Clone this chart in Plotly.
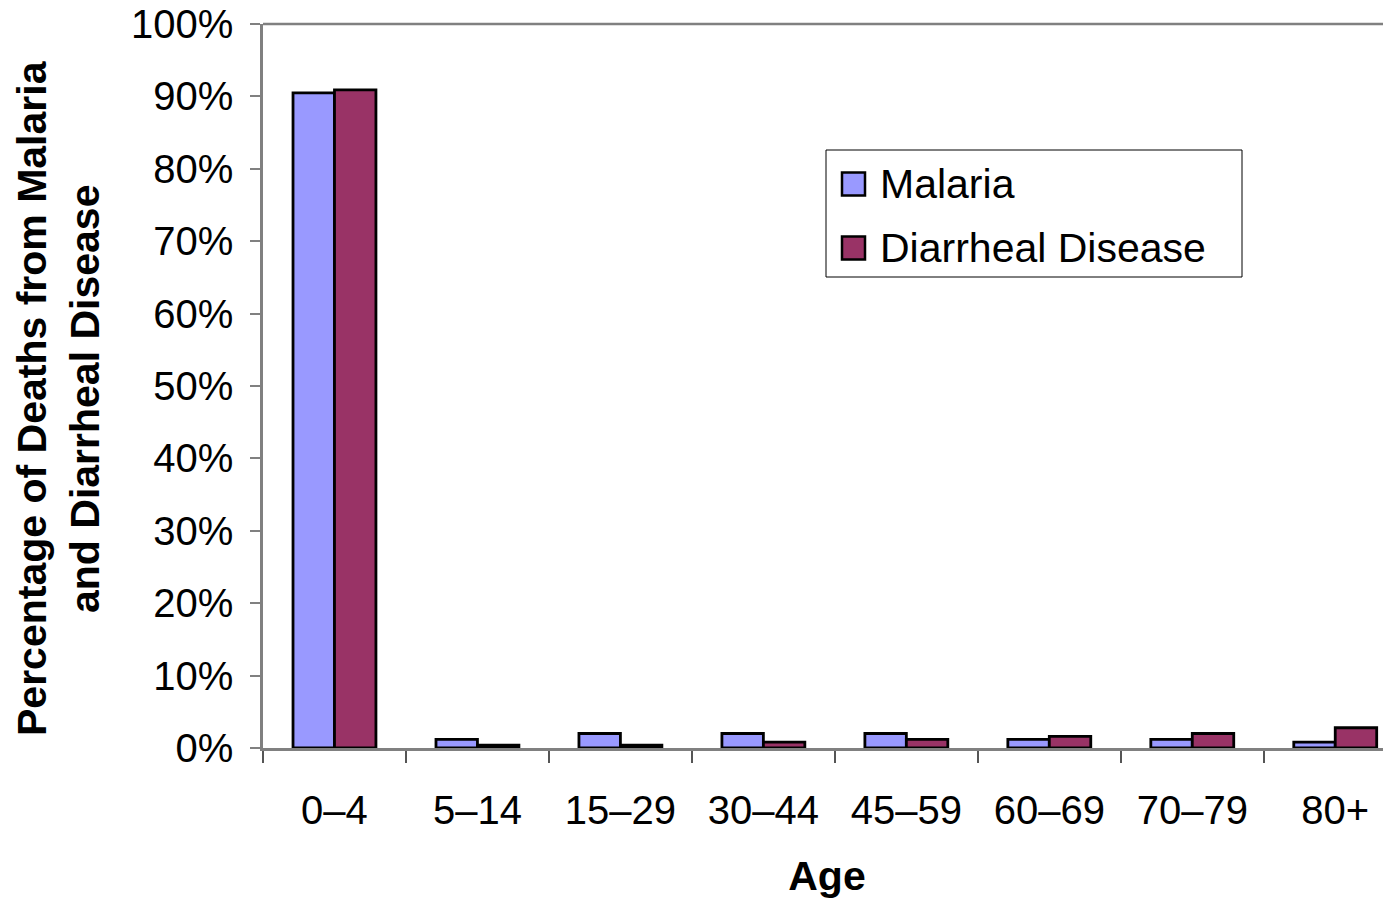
import plotly.graph_objects as go

ages = ["0–4", "5–14", "15–29", "30–44", "45–59", "60–69", "70–79", "80+"]
malaria = [0.905, 0.012, 0.020, 0.020, 0.020, 0.012, 0.012, 0.008]
diarrheal = [0.909, 0.004, 0.004, 0.008, 0.012, 0.016, 0.020, 0.028]
series = [("Malaria", malaria, "#9999FF"), ("Diarrheal Disease", diarrheal, "#993366")]

FONT = "Liberation Sans, Arial, sans-serif"
GRAY = "#808080"

# plot area on screen (page has an 8px body margin)
PL, PR, PT, PB = 263, 1391, 24, 748
def px2x(p): return (p - PL) / (PR - PL)
def px2y(p): return (PB - p) / (PB - PT)

fig = go.Figure()
for name, vals, col in series:
    fig.add_bar(x=ages, y=vals, name=name, showlegend=False,
                marker=dict(color=col, line=dict(color="black", width=2.8)))

fig.update_layout(
    width=1383, height=891,
    margin=dict(l=PL - 8, r=0, t=PT - 8, b=891 - (PB - 8)),
    plot_bgcolor="white", paper_bgcolor="white",
    font=dict(family=FONT, size=40, color="black"),
    barmode="group", bargap=0.42, bargroupgap=0,
)
fig.update_xaxes(
    range=[-0.5, 7.39], showline=True, linecolor=GRAY, linewidth=2.5,
    ticks="outside", tickson="boundaries", ticklen=12, tickcolor="#555", tickwidth=2,
    ticklabelstandoff=25, showgrid=False, automargin=False,
    title=dict(text="<b>Age</b>", font=dict(size=41), standoff=36),
)
fig.update_yaxes(
    range=[0, 1], dtick=0.1, tickformat=".0%", showline=True, linecolor=GRAY, linewidth=2.5,
    ticks="outside", ticklen=10, tickcolor=GRAY, tickwidth=2, automargin=False,
    ticklabelstandoff=9, ticklabeloverflow="allow", showgrid=False, zeroline=False,
)
fig.add_annotation(
    text="<b>Percentage of Deaths from Malaria<br>and Diarrheal Disease</b>",
    xref="paper", yref="paper", x=px2x(58), y=px2y(398), xanchor="center", yanchor="middle",
    textangle=-90, showarrow=False, font=dict(size=41), align="center",
)
fig.add_shape(type="line", xref="paper", yref="paper", x0=0, x1=1, y0=1, y1=1,
              line=dict(color=GRAY, width=2.5))

# legend box
fig.add_shape(type="rect", xref="paper", yref="paper",
              x0=px2x(826), x1=px2x(1242), y0=px2y(277), y1=px2y(150),
              line=dict(color="black", width=1), fillcolor="white")
for i, (name, vals, col) in enumerate(series):
    cy = 184 + 64 * i
    fig.add_shape(type="rect", xref="paper", yref="paper",
                  x0=px2x(842), x1=px2x(865), y0=px2y(cy + 11.5), y1=px2y(cy - 11.5),
                  line=dict(color="black", width=2.5), fillcolor=col)
    fig.add_annotation(text=name, xref="paper", yref="paper", x=px2x(878), y=px2y(cy),
                       xanchor="left", yanchor="middle", showarrow=False,
                       font=dict(size=41))

fig.write_html("out.html")
